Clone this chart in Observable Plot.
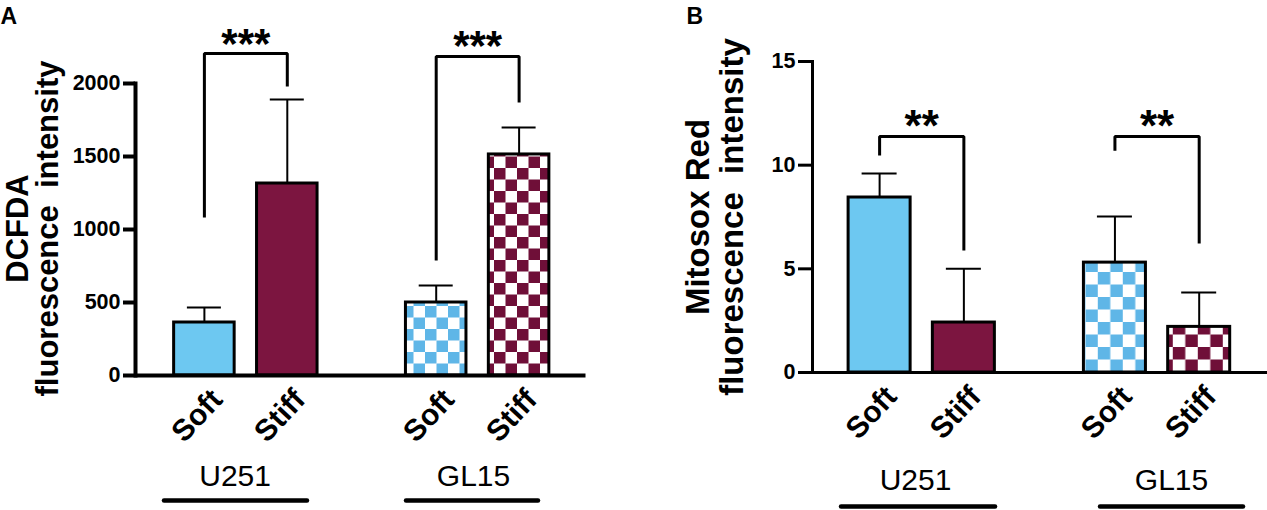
<!DOCTYPE html>
<html><head><meta charset="utf-8">
<script src="https://cdn.jsdelivr.net/npm/d3@7"></script>
<script src="https://cdn.jsdelivr.net/npm/@observablehq/plot@0.6"></script>
<style>
body{margin:0;background:#fff;}
#fig{display:flex;width:1267px;height:510px;overflow:hidden;}
#fig svg{flex:none;}
</style></head><body><div id="fig"></div>
<script>
// ---- data ----
const cellLines = ["U251", "GL15"];
const conditions = ["Soft", "Stiff"];
// order: U251 Soft, U251 Stiff, GL15 Soft, GL15 Stiff
const dcfdaMean = [363, 1315, 500, 1514];
const dcfdaSD = [103, 575, 116, 185];
const mitosoxMean = [8.44, 2.41, 5.30, 2.20];
const mitosoxSD = [1.16, 2.59, 2.22, 1.66];
const dcfdaTicks = [0, 500, 1000, 1500, 2000];
const mitosoxTicks = [0, 5, 10, 15];
const dcfdaStars = ["***", "***"];
const mitosoxStars = ["**", "**"];
const dcfdaBracketTop = [2205, 2185];
const dcfdaBracketEnds = [[1082, 1979], [788, 1870]];
const mitosoxBracketTop = [11.38, 11.38];
const mitosoxBracketEnds = [[10.47, 5.89], [10.7, 6.22]];
const dcfdaTitle = ["DCFDA", "fluorescence  intensity"];
const mitosoxTitle = ["Mitosox Red", "fluorescence  intensity"];

const solidColors = {Soft: "#6dc8f1", Stiff: "#7c1540"};
const checkColors = {Soft: "#5fb6e7", Stiff: "#6f0f38"};
const FONT = "'Liberation Sans', Arial, Helvetica, sans-serif";

function panel(c) {
  const rows = cellLines.flatMap((cell, gi) => conditions.map((cond, ci) => ({
    cell, cond, gi, key: cell + " " + cond,
    mean: c.mean[gi * 2 + ci], sd: c.sd[gi * 2 + ci]
  })));
  const keys = rows.map(d => d.key);
  const R = c.width - c.ML - c.MR;
  const step = R / (keys.length - c.pi + 2 * c.po);
  const bw = step * (1 - c.pi);
  const capInset = (bw - c.capW) / 2;
  const center0 = c.ML + step * c.po + bw / 2;
  const fillOf = d => d.gi === 0 ? solidColors[d.cond] : `url(#chk${d.cond}${c.id})`;

  const marks = [];
  cellLines.forEach((cell, gi) => {
    const g = rows.filter(d => d.gi === gi);
    const shift = c.shifts[gi];
    const groupCenter = center0 + step * (2 * gi + 0.5) + shift;
    marks.push(
      Plot.barY(g, {x: "key", y: "mean", fill: fillOf, stroke: "black", strokeWidth: c.barSW, dx: shift}),
      Plot.ruleX(g, {x: "key", y1: "mean", y2: d => d.mean + d.sd, stroke: "black", strokeWidth: 2, dx: shift}),
      Plot.tickY(g, {x: "key", y: d => d.mean + d.sd, stroke: "black", strokeWidth: 2, insetLeft: capInset, insetRight: capInset, dx: shift}),
      Plot.line([
        {x: g[0].key, y: c.ends[gi][0]},
        {x: g[0].key, y: c.top[gi]},
        {x: g[1].key, y: c.top[gi]},
        {x: g[1].key, y: c.ends[gi][1]}
      ], {x: "x", y: "y", stroke: "black", strokeWidth: 3, strokeLinejoin: "miter", strokeLinecap: "butt", dx: shift}),
      Plot.text([{x: g[0].key, y: c.top[gi], t: c.stars[gi]}], {
        x: "x", y: "y", text: "t", dx: shift + step / 2, dy: c.starDy, lineAnchor: "bottom",
        fontSize: c.starSize, fontWeight: "bold", fill: "black"
      }),
      Plot.text(g, {
        x: "key", text: "cond", frameAnchor: "bottom", rotate: -47, textAnchor: "end", lineAnchor: "top",
        dx: shift + c.tickDx, dy: c.tickDy, fontSize: 30, fontWeight: "bold", fill: "black"
      }),
      Plot.text([{x: g[0].key, t: cell}], {
        x: "x", text: "t", frameAnchor: "bottom", lineAnchor: "bottom",
        dx: shift + step / 2 + c.labelOff[gi], dy: c.labelDy, fontSize: 30, fill: "black"
      })
    );
    const ulc = groupCenter + c.ulOff[gi];
    marks.push(Plot.ruleY([0], {
      dy: c.ulDy, stroke: "black", strokeWidth: 4.5, strokeLinecap: "round",
      insetLeft: ulc - c.ulHalf[gi] - c.ML, insetRight: (c.width - c.MR) - (ulc + c.ulHalf[gi])
    }));
  });

  marks.push(
    Plot.ruleY([0], {stroke: "black", strokeWidth: c.axisSW}),
    Plot.frame({anchor: "left", stroke: "black", strokeWidth: c.axisSW}),
    Plot.axisY(c.ticks, {tickSize: c.tickSize, strokeWidth: c.axisSW, label: null, tickFormat: () => ""}),
    Plot.text(c.ticks, {y: d => d, text: d => String(d), frameAnchor: "left", textAnchor: "end",
      dx: -(c.tickSize + 3), fontSize: 21.5, fontWeight: "bold", fill: "black"}),
    Plot.text([c.title[0]], {text: d => d, frameAnchor: "left", rotate: -90, textAnchor: "middle", lineAnchor: "bottom", dx: c.titleDx[0], dy: c.titleDy, fontSize: c.titleSize, fontWeight: "bold", fill: "black"}),
    Plot.text([c.title[1]], {text: d => d, frameAnchor: "left", rotate: -90, textAnchor: "middle", lineAnchor: "bottom", dx: c.titleDx[1], dy: c.titleDy, fontSize: c.titleSize, fontWeight: "bold", fill: "black"}),
    Plot.text([c.letter], {text: d => d, frameAnchor: "top-left", textAnchor: "start", lineAnchor: "bottom", dx: c.letterX - c.ML, dy: 23 - c.MT, fontSize: 23, fontWeight: "bold", fill: "black"})
  );

  const svg = Plot.plot({
    width: c.width, height: 510,
    marginLeft: c.ML, marginRight: c.MR, marginTop: c.MT, marginBottom: c.MB,
    style: {fontFamily: FONT, background: "white", overflow: "visible", color: "black"},
    x: {domain: keys, paddingInner: c.pi, paddingOuter: c.po, align: 0.5, round: false, axis: null},
    y: {domain: [c.ticks[0], c.ticks[c.ticks.length - 1]], axis: null},
    color: {type: "identity"},
    marks
  });

  const defs = d3.select(svg).insert("defs", ":first-child");
  conditions.forEach(cond => {
    const s = c.sq;
    const p = defs.append("pattern").attr("id", `chk${cond}${c.id}`)
      .attr("patternUnits", "userSpaceOnUse").attr("width", 2 * s).attr("height", 2 * s)
      .attr("x", c.patX).attr("y", c.patY);
    p.append("rect").attr("width", 2 * s).attr("height", 2 * s).attr("fill", "white");
    p.append("rect").attr("width", s).attr("height", s).attr("fill", checkColors[cond]);
    p.append("rect").attr("x", s).attr("y", s).attr("width", s).attr("height", s).attr("fill", checkColors[cond]);
  });
  return svg;
}

const fig = document.getElementById("fig");
fig.appendChild(panel({
  id: "A", letter: "A", letterX: 0, width: 640, ML: 135, MR: 54.5, MT: 83, MB: 135,
  pi: 0.27, po: 0.852, shifts: [-32, 34], capW: 34, barSW: 3, axisSW: 4, tickSize: 12,
  mean: dcfdaMean, sd: dcfdaSD, ticks: dcfdaTicks, stars: dcfdaStars,
  top: dcfdaBracketTop, ends: dcfdaBracketEnds, starDy: 4, starSize: 42,
  tickDx: 4, tickDy: 11, labelOff: [-10.75, -4.15], labelDy: 110,
  ulOff: [-9.85, -5.15], ulHalf: [71.5, 66], ulDy: 125,
  title: dcfdaTitle, titleDx: [-108, -78], titleDy: -1, titleSize: 31,
  sq: 11.5, patX: 0, patY: 375
}));
fig.appendChild(panel({
  id: "B", letter: "B", letterX: 46, width: 627, ML: 172, MR: 0, MT: 61, MB: 138,
  pi: 0.264, po: 0.832, shifts: [-34, 32.8], capW: 35, barSW: 3, axisSW: 3, tickSize: 14,
  mean: mitosoxMean, sd: mitosoxSD, ticks: mitosoxTicks, stars: mitosoxStars,
  top: mitosoxBracketTop, ends: mitosoxBracketEnds, starDy: 4, starSize: 44,
  tickDx: 3, tickDy: 11, labelOff: [-6.2, 14.45], labelDy: 117.5,
  ulOff: [-3.2, 14.95], ulHalf: [77, 71.5], ulDy: 134,
  title: mitosoxTitle, titleDx: [-104, -70], titleDy: 0, titleSize: 33,
  sq: 12.5, patX: 0, patY: 372
}));
</script></body></html>
